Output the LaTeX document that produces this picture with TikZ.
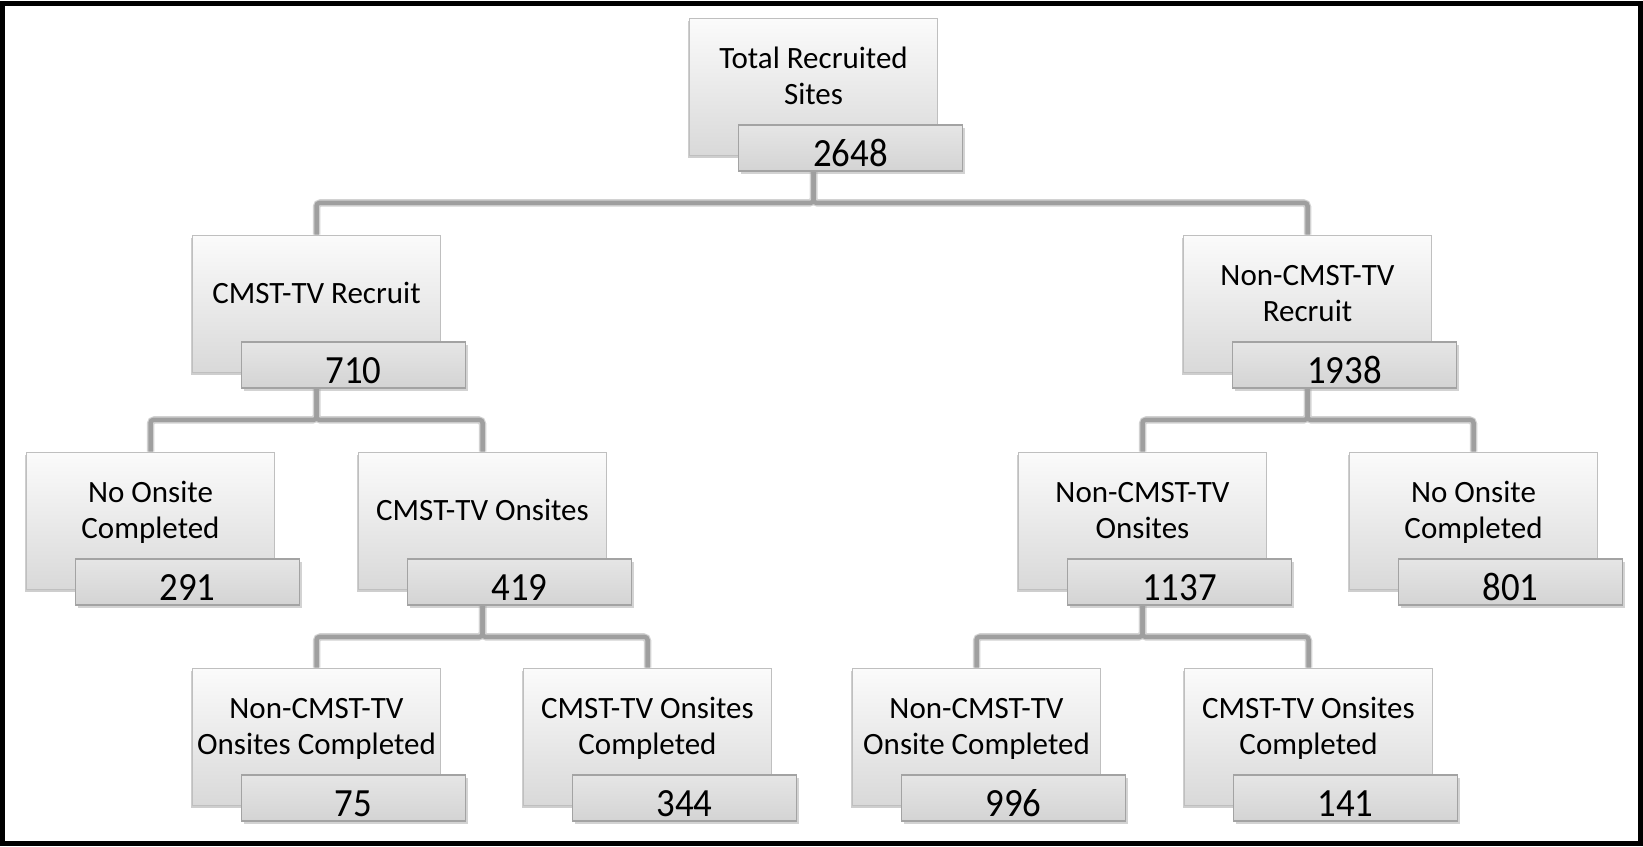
\documentclass[tikz,border=0pt]{standalone}
\usepackage{fontspec}
\setmainfont{Carlito}
\newfontfamily\numfont[FakeStretch=0.92]{Carlito}
\usetikzlibrary{shadows,backgrounds}
\tikzset{
  mainbox/.style={draw=gray!50, line width=1pt, top color=gray!3, bottom color=gray!30,
    minimum width=248pt, minimum height=137pt, inner sep=0pt,
    drop shadow={shadow xshift=-1.5pt, shadow yshift=-3pt, opacity=0.5, fill=gray!75}},
  numbox/.style={draw=gray!72, line width=1.8pt, top color=gray!20, bottom color=gray!34,
    minimum width=224pt, minimum height=46pt, inner sep=0pt,
    drop shadow={shadow xshift=2pt, shadow yshift=-3pt, opacity=0.45, fill=gray!75}},
  lbl/.style={anchor=base, align=center, inner sep=0pt, text=black,
    font=\fontsize{31pt}{36pt}\selectfont},
  num/.style={anchor=base, inner sep=0pt, text=black,
    font=\numfont\fontsize{40pt}{44pt}\selectfont},
  conn/.style={draw=gray!75, line width=4.5pt, rounded corners=3pt},
  halo/.style={draw=gray!35, line width=7.5pt, rounded corners=4pt},
}
\newcommand\sitebox[6]{%
  \node[mainbox] (#1) at ({#2},{#3+68.5}) {};
  \node[numbox] (#1n) at ({#2+37},{#3+130}) {};
  \node[lbl] (#1l) at ({#2},{#3+#6}) {#4};
  \node[num] (#1v) at ({#2+37},{#3+148}) {#5};
}
\begin{document}
\begin{tikzpicture}[x=1pt, y=-1pt]
\useasboundingbox (0,0) rectangle (1643,846);
% level 1
\sitebox{t}{813.5}{18}{Total Recruited\\Sites}{2648}{86}
% level 2
\sitebox{a}{316.5}{235}{CMST-TV Recruit}{710}{68}
\sitebox{b}{1307.5}{235}{Non-CMST-TV\\Recruit}{1938}{86}
% level 3
\sitebox{c}{150.5}{452}{No Onsite\\Completed}{291}{86}
\sitebox{d}{482.5}{452}{CMST-TV Onsites}{419}{68}
\sitebox{e}{1142.5}{452}{Non-CMST-TV\\Onsites}{1137}{86}
\sitebox{f}{1473.5}{452}{No Onsite\\Completed}{801}{86}
% level 4
\sitebox{g}{316.5}{668}{Non-CMST-TV\\Onsites Completed}{75}{86}
\sitebox{h}{647.5}{668}{CMST-TV Onsites\\Completed}{344}{86}
\sitebox{i}{976.5}{668}{Non-CMST-TV\\Onsite Completed}{996}{86}
\sitebox{j}{1308.5}{668}{CMST-TV Onsites\\Completed}{141}{86}
% connectors
\begin{scope}[on background layer]
  \fill[white] (0,0) rectangle (1643,846);
  \foreach \p/\q/\r in {t/a/b, a/c/d, d/g/h, b/e/f, e/i/j}{
    \draw[halo] (\p.center |- \p n.south) -- ++(0,31) -| (\q.north);
    \draw[halo] (\p.center |- \p n.south) -- ++(0,31) -| (\r.north);
  }
  \foreach \p/\q/\r in {t/a/b, a/c/d, d/g/h, b/e/f, e/i/j}{
    \draw[conn] (\p.center |- \p n.south) -- ++(0,31) -| (\q.north);
    \draw[conn] (\p.center |- \p n.south) -- ++(0,31) -| (\r.north);
  }
\end{scope}
% frame
\draw[line width=5pt] (2.5,3) rectangle (1640.5,843.5);
\end{tikzpicture}
\end{document}
